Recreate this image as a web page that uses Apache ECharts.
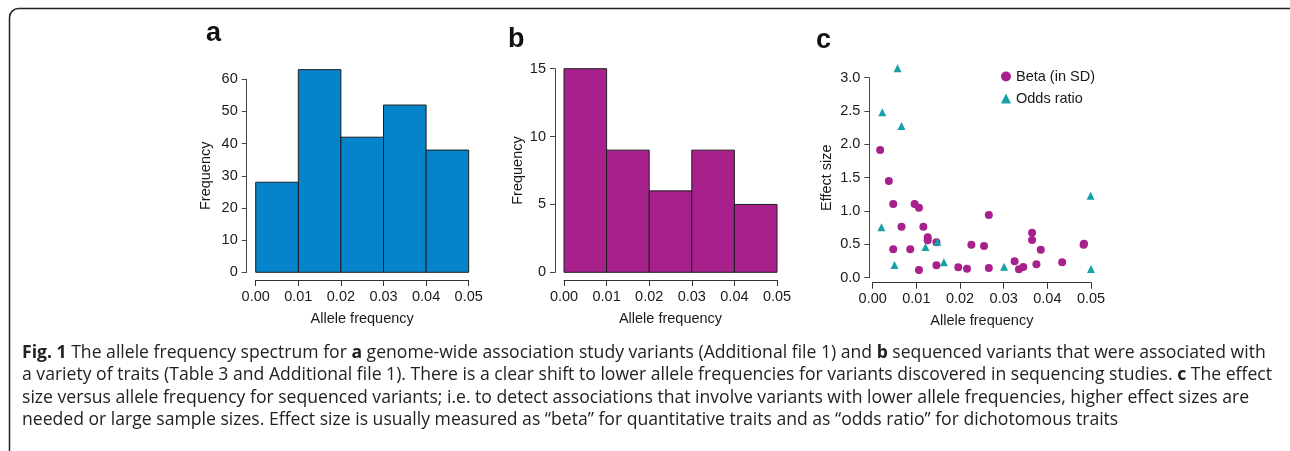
<!DOCTYPE html>
<html>
<head>
<meta charset="utf-8">
<script src="https://cdn.jsdelivr.net/npm/echarts@6/dist/echarts.min.js"></script>
<style>
  html, body { margin: 0; padding: 0; background: #fff; }
  #chart { width: 1290px; height: 451px; }
</style>
</head>
<body>
<div id="chart"></div>
<script>
// bins of the two histograms
const binEdges = [0, 0.01, 0.02, 0.03, 0.04, 0.05];
const gwasCounts = [28, 63, 42, 52, 38];
const seqCounts = [15, 9, 6, 9, 5];

// panel c: [allele frequency, effect size]
const betaPoints = [
  [0.0017, 1.915], [0.0037, 1.45], [0.0047, 1.105], [0.0047, 0.425],
  [0.0066, 0.765], [0.0086, 0.425], [0.0096, 1.105], [0.0106, 1.05],
  [0.0106, 0.115], [0.0116, 0.765], [0.0126, 0.605], [0.0126, 0.56],
  [0.0146, 0.53], [0.0146, 0.185], [0.0196, 0.155], [0.0216, 0.135],
  [0.0226, 0.495], [0.0255, 0.475], [0.0266, 0.94], [0.0266, 0.145],
  [0.0325, 0.245], [0.0335, 0.125], [0.0345, 0.16], [0.0365, 0.675],
  [0.0365, 0.565], [0.0375, 0.2], [0.0385, 0.42], [0.0434, 0.23],
  [0.0484, 0.51], [0.0483, 0.495]
];
const oddsPoints = [
  [0.0057, 3.14], [0.0022, 2.48], [0.0066, 2.275], [0.0020, 0.755],
  [0.0050, 0.19], [0.0121, 0.46], [0.0148, 0.54], [0.0163, 0.23],
  [0.0301, 0.165], [0.0499, 1.23], [0.0500, 0.13]
];

const xTicks = ['0.00', '0.01', '0.02', '0.03', '0.04', '0.05'];

const captionLines = [
  '{b|Fig. 1} The allele frequency spectrum for {b|a} genome-wide association study variants (Additional file 1) and {b|b} sequenced variants that were associated with',
  'a variety of traits (Table 3 and Additional file 1). There is a clear shift to lower allele frequencies for variants discovered in sequencing studies. {b|c} The effect',
  'size versus allele frequency for sequenced variants; i.e. to detect associations that involve variants with lower allele frequencies, higher effect sizes are',
  'needed or large sample sizes. Effect size is usually measured as \u201cbeta\u201d for quantitative traits and as \u201codds ratio\u201d for dichotomous traits'
];

const FONT = 'Liberation Sans, Arial, Helvetica, sans-serif';
const INK = '#1a1a1a';
const BLUE = '#0584CB';
const MAGENTA = '#A8208B';
const TEAL = '#17A0A8';

function bins(counts) {
  return counts.map((c, i) => [binEdges[i], binEdges[i + 1], c]);
}

function histRender(color) {
  return function (params, api) {
    const p0 = api.coord([api.value(0), 0]);
    const p1 = api.coord([api.value(1), api.value(2)]);
    return {
      type: 'rect',
      shape: { x: p0[0], y: p1[1], width: p1[0] - p0[0], height: p0[1] - p1[1] },
      style: { fill: color, stroke: '#1e1e1e', lineWidth: 1 }
    };
  };
}

function xAxisOf(grid, offset) {
  return {
    type: 'value', gridIndex: grid, min: 0, max: 0.05, interval: 0.01, offset: offset,
    name: 'Allele frequency', nameLocation: 'middle', nameGap: 31,
    nameTextStyle: { fontFamily: FONT, fontSize: 14.5, color: INK },
    axisLine: { show: true, onZero: false, lineStyle: { color: '#333', width: 1 } },
    axisTick: { show: true, length: 6, lineStyle: { color: '#333' } },
    axisLabel: { margin: 9, fontFamily: FONT, fontSize: 14.5, color: INK,
      formatter: v => xTicks[Math.round(v * 100)] },
    splitLine: { show: false }
  };
}

function yAxisOf(grid, max, interval, offset, name, gap, fmt) {
  return {
    type: 'value', gridIndex: grid, min: 0, max: max, interval: interval, offset: offset,
    name: name, nameLocation: 'middle', nameGap: gap,
    nameTextStyle: { fontFamily: FONT, fontSize: 14.5, color: INK },
    axisLine: { show: true, onZero: false, lineStyle: { color: '#444', width: 1 } },
    axisTick: { show: true, length: 5, lineStyle: { color: '#444' } },
    axisLabel: { margin: 9, fontFamily: FONT, fontSize: 14.5, color: INK, formatter: fmt },
    splitLine: { show: false }
  };
}

const chart = echarts.init(document.getElementById('chart'), null, { renderer: 'canvas' });

const graphics = [
  { type: 'rect', shape: { x: 9.5, y: 8.5, width: 1300, height: 470, r: 9 },
    style: { fill: 'none', stroke: '#222', lineWidth: 1.5 }, silent: true },
  { type: 'text', left: 206, top: 20, style: { text: 'a', font: 'bold 27px ' + FONT, fill: '#111' } },
  { type: 'text', left: 508, top: 26, style: { text: 'b', font: 'bold 27px ' + FONT, fill: '#111' } },
  { type: 'text', left: 816, top: 27, style: { text: 'c', font: 'bold 27px ' + FONT, fill: '#111' } }
];
captionLines.forEach((line, i) => {
  graphics.push({
    type: 'text', x: 22, y: 352.5 + i * 22.6,
    style: {
      text: line, fontFamily: 'Open Sans', fontSize: 17.6, fill: '#222', verticalAlign: 'middle',
      rich: { b: { fontFamily: 'Open Sans', fontSize: 17.6, fontWeight: 'bold', fill: '#222' } }
    }
  });
});

chart.setOption({
  animation: false,
  backgroundColor: '#fff',
  textStyle: { fontFamily: FONT },
  grid: [
    { left: 255.7, top: 79.3, width: 213, height: 193, containLabel: false, outerBoundsMode: 'none' },
    { left: 564, top: 68.7, width: 213, height: 203.6, containLabel: false, outerBoundsMode: 'none' },
    { left: 872.7, top: 77.7, width: 218.3, height: 200, containLabel: false, outerBoundsMode: 'none' }
  ],
  xAxis: [xAxisOf(0, 7.7), xAxisOf(1, 7.7), xAxisOf(2, 5)],
  yAxis: [
    yAxisOf(0, 60, 10, 9, 'Frequency', 33, v => String(v)),
    yAxisOf(1, 15, 5, 9, 'Frequency', 30, v => String(v)),
    yAxisOf(2, 3, 0.5, 3.4, 'Effect size', 35, v => v.toFixed(1))
  ],
  legend: {
    orient: 'vertical', left: 996, top: 64, itemWidth: 10, itemHeight: 10, itemGap: 7,
    textStyle: { fontFamily: FONT, fontSize: 14.5, color: INK },
    data: [
      { name: 'Beta (in SD)', icon: 'circle' },
      { name: 'Odds ratio', icon: 'triangle' }
    ]
  },
  graphic: graphics,
  series: [
    { type: 'custom', name: 'GWAS', xAxisIndex: 0, yAxisIndex: 0, clip: false,
      renderItem: histRender(BLUE), encode: { x: [0, 1], y: 2 }, data: bins(gwasCounts) },
    { type: 'custom', name: 'Sequenced', xAxisIndex: 1, yAxisIndex: 1, clip: false,
      renderItem: histRender(MAGENTA), encode: { x: [0, 1], y: 2 }, data: bins(seqCounts) },
    { type: 'scatter', name: 'Beta (in SD)', xAxisIndex: 2, yAxisIndex: 2, clip: false,
      symbol: 'circle', symbolSize: 8, itemStyle: { color: MAGENTA, opacity: 1 }, data: betaPoints },
    { type: 'scatter', name: 'Odds ratio', xAxisIndex: 2, yAxisIndex: 2, clip: false,
      symbol: 'triangle', symbolSize: 8, itemStyle: { color: TEAL, opacity: 1 }, data: oddsPoints }
  ]
});
</script>
</body>
</html>
